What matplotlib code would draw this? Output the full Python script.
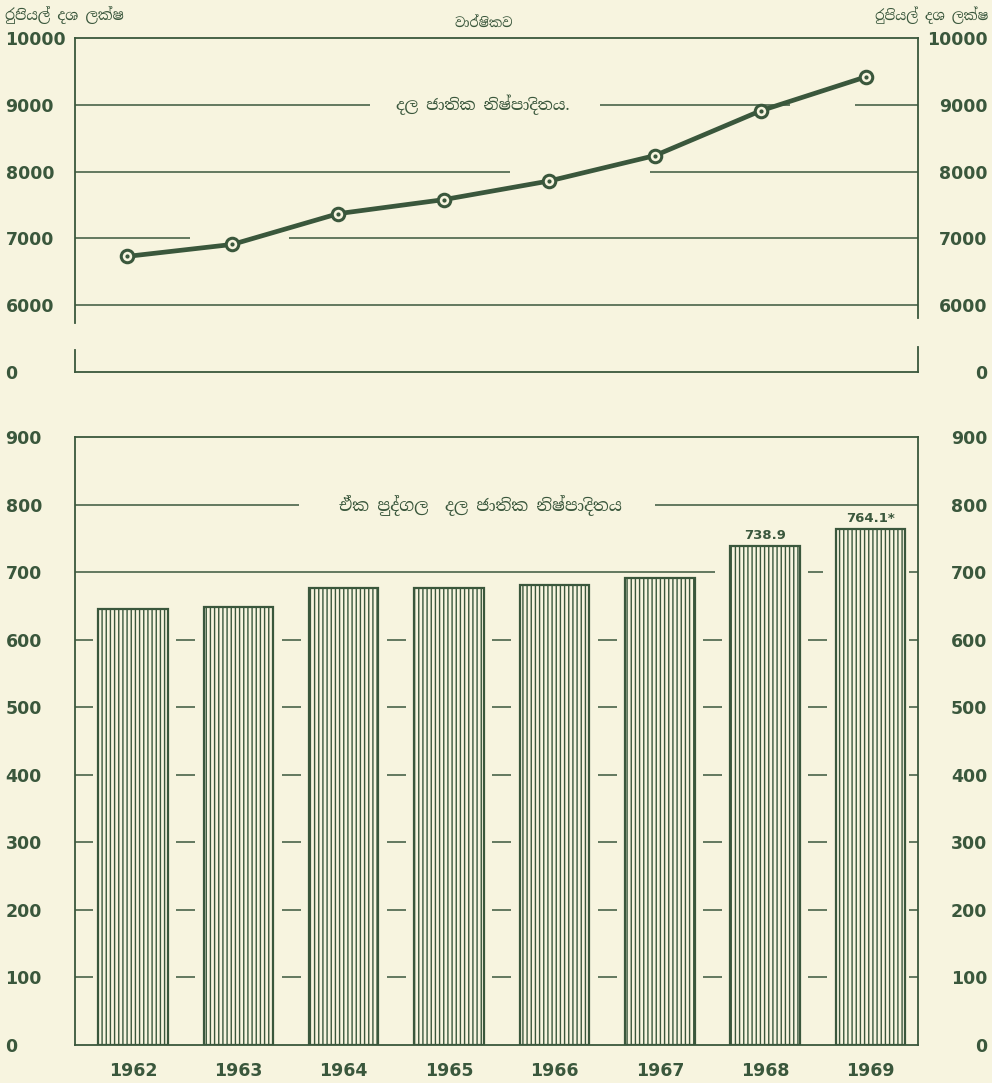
import matplotlib
matplotlib.use("Agg")
import matplotlib.pyplot as plt
import numpy as np
from matplotlib import font_manager

# data
years = ["1962", "1963", "1964", "1965", "1966", "1967", "1968", "1969"]
gnp = [6730, 6910, 7370, 7580, 7860, 8240, 8910, 9420]          # rupees million
per_capita = [646, 649, 677, 677, 681, 692, 738.9, 764.1]        # rupees
bar_labels = {6: "738.9", 7: "764.1*"}

top_ticks = [0, 6000, 7000, 8000, 9000, 10000]
bottom_ticks = [0, 100, 200, 300, 400, 500, 600, 700, 800, 900]

unit_label = "රුපියල් දශ ලක්ෂ"
period_label = "වාර්ෂිකව"
top_title = "දල ජාතික නිෂ්පාදිතය."
bottom_title = "ඒක පුද්ගල  දල ජාතික නිෂ්පාදිතය"

INK = "#3a573c"
PAPER = "#f7f4df"

# Sinhala-capable font only for the Sinhala texts (bold face if there is one)
sin_fam = ["DejaVu Sans"]
sin_bold = "normal"
for f in font_manager.fontManager.ttflist:
    if "sinhala" in f.name.lower():
        sin_fam = [f.name, "DejaVu Sans"]
        w = f.weight if isinstance(f.weight, int) else 400
        if w >= 600 or str(f.weight) == "bold":
            sin_bold = "bold"
plt.rcParams["font.family"] = ["DejaVu Sans"]
plt.rcParams["hatch.color"] = INK
plt.rcParams["hatch.linewidth"] = 1.0

fig = plt.figure(figsize=(9.92, 10.83), dpi=100, facecolor=PAPER)
L, R = 75 / 992, 918 / 992
ax1 = fig.add_axes([L, 1 - 372 / 1083, R - L, (372 - 38) / 1083])
ax2 = fig.add_axes([L, 1 - 1045 / 1083, R - L, (1045 - 437) / 1083])
for ax in (ax1, ax2):
    ax.set_facecolor(PAPER)

x = np.arange(len(years))

# ---- top panel: GNP line with broken y axis -----------------------------
def fwd(v):
    v = np.asarray(v, dtype=float)
    return np.where(v < 6000, 5000 + v / 6.0, v)


def inv(u):
    u = np.asarray(u, dtype=float)
    return np.where(u < 6000, (u - 5000) * 6.0, u)


ax1.set_yscale("function", functions=(fwd, inv))
ax1.set_ylim(0, 10000)
ax1.set_xlim(-0.49, 7.49)

grid_top = {
    9000: [(-0.49, 2.30), (4.48, 6.28), (6.89, 7.49)],
    8000: [(-0.49, 3.63), (4.95, 7.49)],
    7000: [(-0.49, 0.60), (1.54, 7.49)],
    6000: [(-0.49, 7.49)],
}
for lvl, segs in grid_top.items():
    for a, b in segs:
        ax1.hlines(lvl, a, b, color=INK, lw=1.1)

ax1.plot(x, gnp, color=INK, lw=3.4, zorder=3)
ax1.plot(x, gnp, "o", ms=9, mfc=PAPER, mec=INK, mew=2.2, zorder=4)
ax1.plot(x, gnp, "o", ms=2, color=INK, zorder=5)

for s in ("left", "right"):
    ax1.spines[s].set_visible(False)
for s in ("top", "bottom"):
    ax1.spines[s].set_color(INK)
    ax1.spines[s].set_linewidth(1.3)
# broken side frames
ax1.plot([0, 0], [0.147, 1], transform=ax1.transAxes, color=INK, lw=1.3, clip_on=False)
ax1.plot([0, 0], [0, 0.066], transform=ax1.transAxes, color=INK, lw=1.3, clip_on=False)
ax1.plot([1, 1], [0.162, 1], transform=ax1.transAxes, color=INK, lw=1.3, clip_on=False)
ax1.plot([1, 1], [0, 0.075], transform=ax1.transAxes, color=INK, lw=1.3, clip_on=False)

ax1.set_xticks([])
ax1.set_yticks(top_ticks)
ax1.set_yticklabels([str(t) for t in top_ticks])
ax1.yaxis.set_minor_locator(matplotlib.ticker.NullLocator())
ax1.tick_params(axis="y", which="both", left=True, right=True, labelleft=True,
                labelright=True, length=0, labelsize=12.5, labelcolor=INK)
for t in ax1.yaxis.get_major_ticks():
    t.label1.set_horizontalalignment("left")
    t.label1.set_fontweight("bold")
    t.label2.set_horizontalalignment("right")
    t.label2.set_fontweight("bold")
    t.set_pad(50)

ax1.text(3.37, 9000, top_title, ha="center", va="center", color=INK,
         fontsize=11.5, fontweight=sin_bold, family=sin_fam)
ax1.text(0.485, 1.045, period_label, transform=ax1.transAxes, ha="center",
         va="center", color=INK, fontsize=9.5, family=sin_fam)
fig.text(5 / 992, 1 - 15 / 1083, unit_label, ha="left", va="center",
         color=INK, fontsize=10.5, fontweight=sin_bold, family=sin_fam)
fig.text(988 / 992, 1 - 15 / 1083, unit_label, ha="right", va="center",
         color=INK, fontsize=10, family=sin_fam)

# ---- bottom panel: per capita bars --------------------------------------
ax2.set_xlim(-0.55, 7.45)
ax2.set_ylim(0, 900)
ax2.bar(x, per_capita, width=0.66, facecolor=PAPER, edgecolor=INK,
        linewidth=1.6, hatch="||||", zorder=3)

for i, lab in bar_labels.items():
    ax2.annotate(lab, (x[i], per_capita[i]), xytext=(0, 3),
                 textcoords="offset points", ha="center", va="bottom",
                 color=INK, fontsize=9.5, fontweight="bold")

# short dashes in the gaps between bars
for lvl in bottom_ticks[1:7]:
    ax2.hlines(lvl, -0.55, -0.38, color=INK, lw=1.1)
    for g in x[:-1] + 0.5:
        ax2.hlines(lvl, g - 0.09, g + 0.09, color=INK, lw=1.1)
    ax2.hlines(lvl, 7.36, 7.45, color=INK, lw=1.1)
ax2.hlines(700, -0.55, 5.52, color=INK, lw=1.1)
ax2.hlines(700, 6.41, 6.55, color=INK, lw=1.1)
ax2.hlines(700, 7.36, 7.45, color=INK, lw=1.1)
ax2.hlines(800, -0.55, 1.58, color=INK, lw=1.1)
ax2.hlines(800, 4.95, 7.45, color=INK, lw=1.1)

ax2.text(3.3, 800, bottom_title, ha="center", va="center", color=INK,
         fontsize=12, fontweight=sin_bold, family=sin_fam)

for s in ax2.spines.values():
    s.set_color(INK)
    s.set_linewidth(1.3)

ax2.set_xticks(x)
ax2.set_xticklabels(years)
ax2.tick_params(axis="x", length=0, pad=12, labelsize=12.5, labelcolor=INK)
for lab in ax2.get_xticklabels():
    lab.set_fontweight("bold")

ax2.set_yticks(bottom_ticks)
ax2.tick_params(axis="y", left=True, right=True, labelleft=True,
                labelright=True, length=0, labelsize=12.5, labelcolor=INK)
for t in ax2.yaxis.get_major_ticks():
    t.label1.set_horizontalalignment("left")
    t.label1.set_fontweight("bold")
    t.label2.set_horizontalalignment("right")
    t.label2.set_fontweight("bold")
    t.set_pad(50)

fig.savefig("out.png", dpi=100, facecolor=PAPER)
